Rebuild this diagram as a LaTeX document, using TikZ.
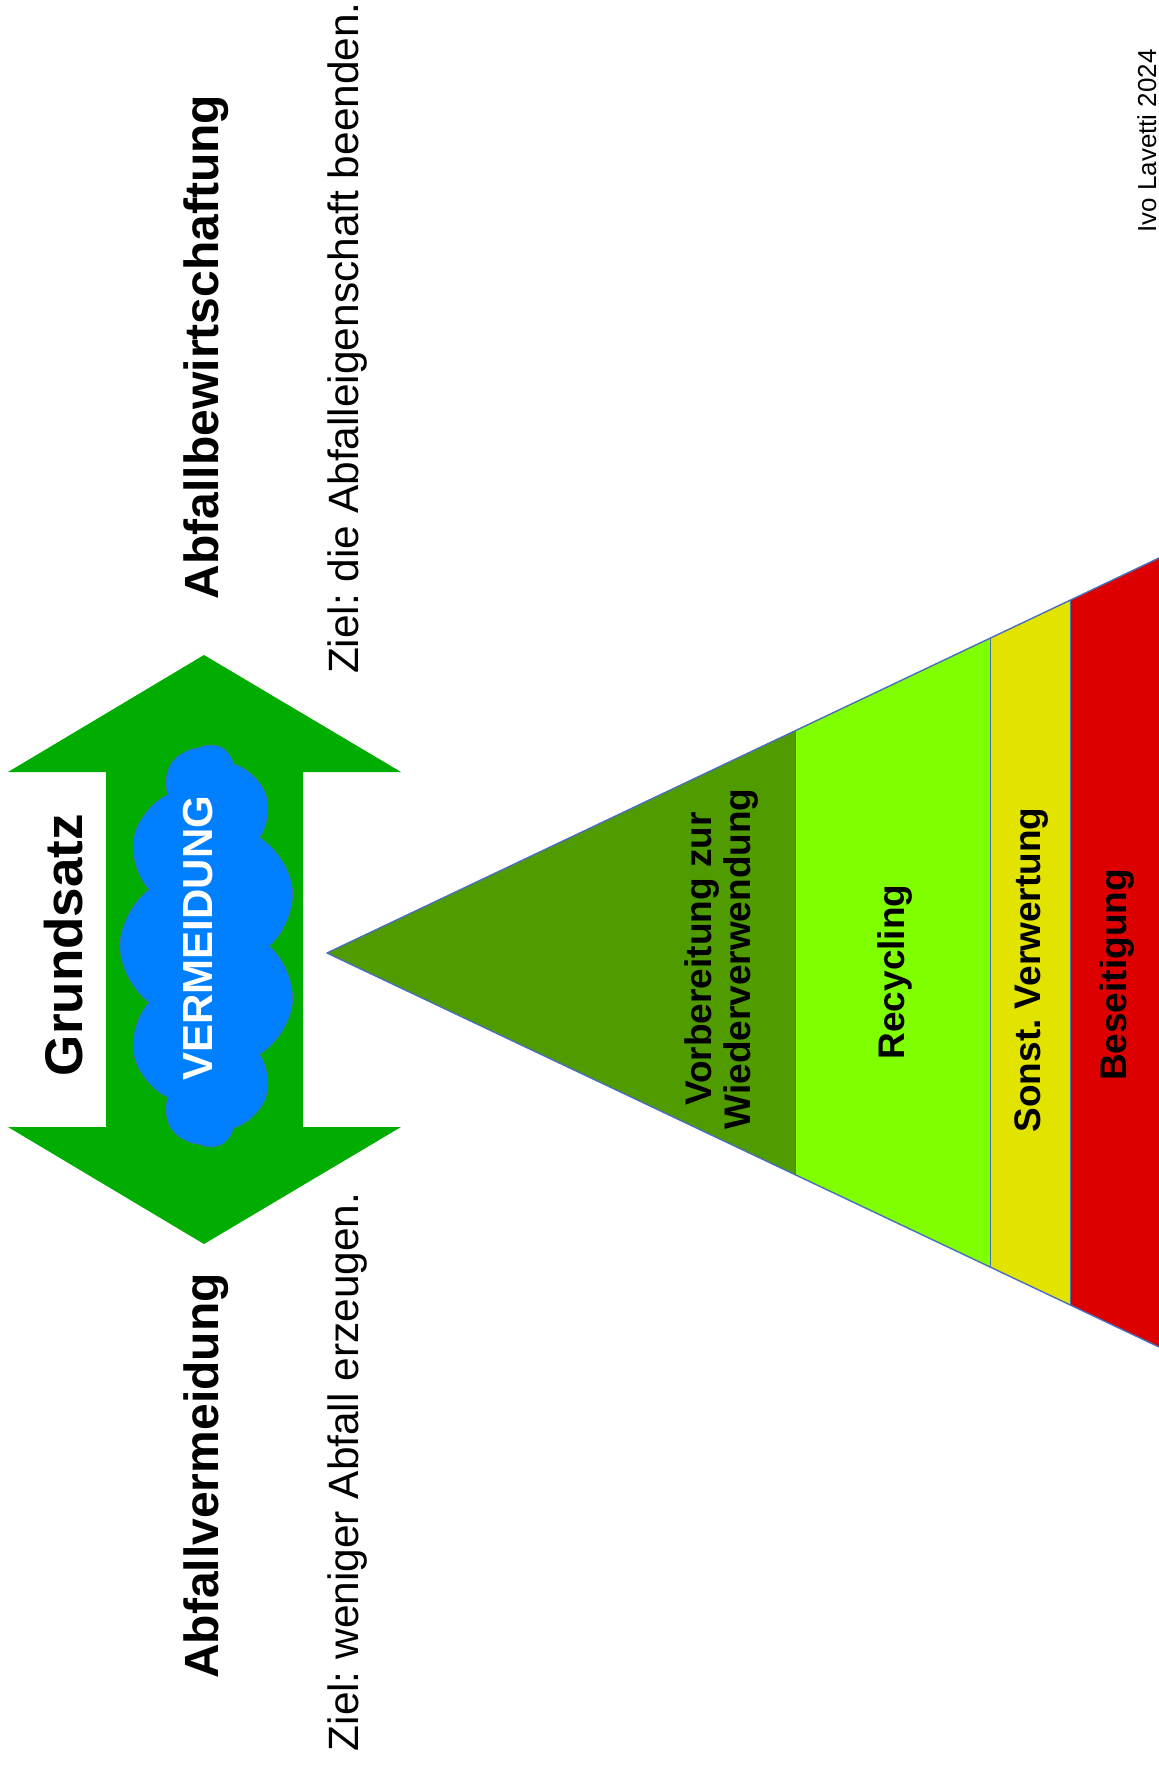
\documentclass[tikz,border=0pt]{standalone}
\usepackage{fontspec}
\setmainfont{Liberation Sans}
\frenchspacing
\usetikzlibrary{shapes.symbols}

\definecolor{arrowgreen}{HTML}{00AD00}
\definecolor{cloudblue}{HTML}{0080FF}
\definecolor{edgeblue}{HTML}{4A6EB8}
\definecolor{reusegreen}{HTML}{4F9B00}
\definecolor{recyclegreen}{HTML}{80FF00}
\definecolor{recoveryyellow}{HTML}{E2E400}
\definecolor{disposalred}{HTML}{DD0000}

\begin{document}
\begin{tikzpicture}[x=1pt, y=-1pt, line join=round, line cap=round,
    heading/.style={rotate=90, anchor=base, inner sep=0pt, font=\fontsize{48}{56}\bfseries},
    goal/.style={rotate=90, anchor=base, inner sep=0pt, font=\fontsize{42.4}{50}\selectfont},
    level/.style={rotate=90, anchor=base, inner sep=0pt, font=\fontsize{37}{40}\bfseries},
    divider/.style={draw=edgeblue, line width=0.8pt}]
    \useasboundingbox (0,0) rectangle (1159,1767);

    % double arrow with cloud
    \fill[arrowgreen] (204,655) -- (401,772) -- (303,772) -- (303,1127) -- (401,1127)
      -- (204,1244) -- (8,1127) -- (106,1127) -- (106,772) -- (8,772) -- cycle;
    \node[cloud, cloud puffs=11, cloud puff arc=110, aspect=2.3, rotate=90,
      minimum width=402pt, minimum height=176pt, inner sep=0pt,
      fill=cloudblue, draw=edgeblue, line width=0.6pt] (cloud) at (208,946) {};
    \node[rotate=90, anchor=base, inner sep=0pt, text=white,
      font=\fontsize{42}{48}\bfseries] (avoid) at (212,938) {VERMEIDUNG};

    \node[rotate=90, anchor=base, inner sep=0pt, font=\fontsize{53}{60}\bfseries]
      (principle) at (82,945) {Grundsatz};
    \node[heading] (prevention) at (218,1476) {Abfallvermeidung};
    \node[heading] (management) at (218,347) {Abfallbewirtschaftung};
    \node[goal] (goalless) at (358,1472) {Ziel: weniger Abfall erzeugen.};
    \node[goal] (goalend) at (358,338) {Ziel: die Abfalleigenschaft beenden.};

    % waste hierarchy
    \coordinate (apex) at (327,953);
    \coordinate (topend) at (1159,558);
    \coordinate (botend) at (1159,1347);
    \begin{scope}
      \clip (apex) -- (topend) -- (botend) -- cycle;
      \fill[reusegreen] (327,500) rectangle (795,1400);
      \fill[recyclegreen] (795,500) rectangle (990,1400);
      \fill[recoveryyellow] (990,500) rectangle (1070,1400);
      \fill[disposalred] (1070,500) rectangle (1159,1400);
    \end{scope}
    \foreach \bx in {795,990,1070}
      \draw[divider] (\bx,{953-0.4741*(\bx-327)}) -- (\bx,{953+0.4741*(\bx-327)});
    \draw[edgeblue, line width=1.4pt] (topend) -- (apex) -- (botend);

    \node[rotate=90, anchor=center, inner sep=0pt, align=center,
      font=\fontsize{37}{39}\bfseries] (reuse) at (722,959)
      {Vorbereitung zur\\Wiederverwendung};
    \node[level] (recycling) at (904,972) {Recycling};
    \node[level] (recovery) at (1040,970) {Sonst. Verwertung};
    \node[level] (disposal) at (1126,975) {Beseitigung};

    \node[rotate=90, anchor=base, inner sep=0pt, font=\fontsize{26}{30}\selectfont]
      (author) at (1156,141) {Ivo Lavetti 2024};
  \end{tikzpicture}
\end{document}
